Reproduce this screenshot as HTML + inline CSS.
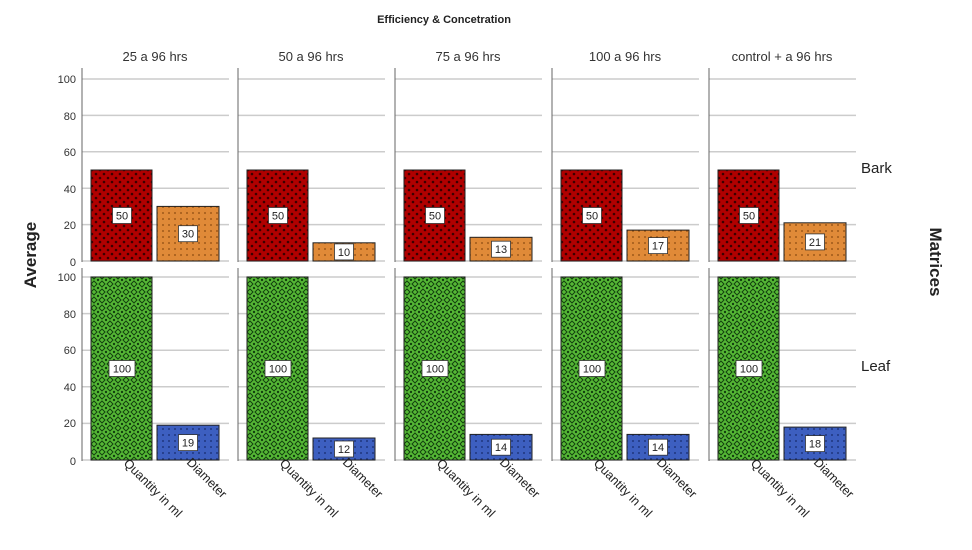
<!DOCTYPE html>
<html><head><meta charset="utf-8"><style>body{margin:0;background:#fff}svg{display:block}</style></head><body>
<svg width="972" height="550" xmlns="http://www.w3.org/2000/svg" font-family="Liberation Sans, sans-serif">
<defs>
<pattern id="pr" width="8" height="8" patternUnits="userSpaceOnUse"><rect width="8" height="8" fill="#b00000"/><circle cx="2" cy="2" r="1.3" fill="#3a0000"/><circle cx="6" cy="6" r="1.3" fill="#3a0000"/></pattern>
<pattern id="po" width="6" height="6" patternUnits="userSpaceOnUse"><rect width="6" height="6" fill="#e08a38"/><circle cx="3" cy="3" r="0.9" fill="#8a4a10"/></pattern>
<pattern id="pg" width="8" height="8" patternUnits="userSpaceOnUse"><rect width="8" height="8" fill="#55b835"/><path d="M4 1L7 4L4 7L1 4Z" fill="none" stroke="#123f0e" stroke-width="1"/><circle cx="0" cy="0" r="1.2" fill="#123f0e"/><circle cx="8" cy="0" r="1.2" fill="#123f0e"/><circle cx="0" cy="8" r="1.2" fill="#123f0e"/><circle cx="8" cy="8" r="1.2" fill="#123f0e"/></pattern>
<pattern id="pb" width="6" height="6" patternUnits="userSpaceOnUse"><rect width="6" height="6" fill="#3d5fc0"/><circle cx="3" cy="3" r="0.9" fill="#162a6a"/></pattern>
<g id="base">
<g stroke="#ccc" stroke-width="1.5">
<line x1="0" x2="147" y1="261" y2="261"/><line x1="0" x2="147" y1="224.6" y2="224.6"/><line x1="0" x2="147" y1="188.2" y2="188.2"/><line x1="0" x2="147" y1="151.8" y2="151.8"/><line x1="0" x2="147" y1="115.4" y2="115.4"/><line x1="0" x2="147" y1="79" y2="79"/>
<line x1="0" x2="147" y1="460" y2="460"/><line x1="0" x2="147" y1="423.4" y2="423.4"/><line x1="0" x2="147" y1="386.8" y2="386.8"/><line x1="0" x2="147" y1="350.2" y2="350.2"/><line x1="0" x2="147" y1="313.6" y2="313.6"/><line x1="0" x2="147" y1="277" y2="277"/>
</g>
<line x1="0" x2="0" y1="68" y2="262" stroke="#666"/>
<line x1="0" x2="0" y1="268" y2="461" stroke="#666"/>
<rect x="9" y="170" width="61" height="91" fill="url(#pr)" stroke="#222"/>
<rect x="9" y="277" width="61" height="183" fill="url(#pg)" stroke="#222"/>
<rect x="30.5" y="207.5" width="19" height="16" fill="#fff" stroke="#333" stroke-width="0.8"/>
<rect x="27" y="360.5" width="26" height="16" fill="#fff" stroke="#333" stroke-width="0.8"/>
</g>
</defs>
<text x="444" y="23" font-size="11" font-weight="bold" text-anchor="middle" fill="#222">Efficiency &amp; Concetration</text>
<text x="36" y="255" font-size="17" font-weight="bold" fill="#222" transform="rotate(-90 36 255)" text-anchor="middle">Average</text>
<text x="930" y="262" font-size="17" font-weight="bold" fill="#222" transform="rotate(90 930 262)" text-anchor="middle">Matrices</text>
<text x="861" y="173" font-size="15" fill="#222">Bark</text>
<text x="861" y="371" font-size="15" fill="#222">Leaf</text>
<g font-size="11" fill="#333" text-anchor="end">
<text x="76" y="83">100</text><text x="76" y="120">80</text><text x="76" y="156">60</text><text x="76" y="193">40</text><text x="76" y="229">20</text><text x="76" y="266">0</text>
<text x="76" y="281">100</text><text x="76" y="318">80</text><text x="76" y="354">60</text><text x="76" y="391">40</text><text x="76" y="427">20</text><text x="76" y="465">0</text>
</g>

<g transform="translate(82,0)">
<use href="#base"/>
<rect x="75" y="206.4" width="62" height="54.6" fill="url(#po)" stroke="#222"/>
<rect x="75" y="425.2" width="62" height="34.8" fill="url(#pb)" stroke="#222"/>
<rect x="96.5" y="225.7" width="19" height="16" fill="#fff" stroke="#333" stroke-width="0.8"/>
<rect x="96.5" y="434.6" width="19" height="16" fill="#fff" stroke="#333" stroke-width="0.8"/>
<g font-size="11" text-anchor="middle" fill="#222"><text x="40" y="219.5">50</text><text x="40" y="372.5">100</text><text x="106" y="237.7">30</text><text x="106" y="446.6">19</text></g>
<text x="73" y="61" font-size="13" text-anchor="middle" fill="#333">25 a 96 hrs</text>
</g>
<g transform="translate(238,0)">
<use href="#base"/>
<rect x="75" y="242.8" width="62" height="18.2" fill="url(#po)" stroke="#222"/>
<rect x="75" y="438" width="62" height="22" fill="url(#pb)" stroke="#222"/>
<rect x="96.5" y="243.9" width="19" height="16" fill="#fff" stroke="#333" stroke-width="0.8"/>
<rect x="96.5" y="441" width="19" height="16" fill="#fff" stroke="#333" stroke-width="0.8"/>
<g font-size="11" text-anchor="middle" fill="#222"><text x="40" y="219.5">50</text><text x="40" y="372.5">100</text><text x="106" y="255.9">10</text><text x="106" y="453">12</text></g>
<text x="73" y="61" font-size="13" text-anchor="middle" fill="#333">50 a 96 hrs</text>
</g>
<g transform="translate(395,0)">
<use href="#base"/>
<rect x="75" y="237.3" width="62" height="23.7" fill="url(#po)" stroke="#222"/>
<rect x="75" y="434.4" width="62" height="25.6" fill="url(#pb)" stroke="#222"/>
<rect x="96.5" y="241.2" width="19" height="16" fill="#fff" stroke="#333" stroke-width="0.8"/>
<rect x="96.5" y="439.2" width="19" height="16" fill="#fff" stroke="#333" stroke-width="0.8"/>
<g font-size="11" text-anchor="middle" fill="#222"><text x="40" y="219.5">50</text><text x="40" y="372.5">100</text><text x="106" y="253.2">13</text><text x="106" y="451.2">14</text></g>
<text x="73" y="61" font-size="13" text-anchor="middle" fill="#333">75 a 96 hrs</text>
</g>
<g transform="translate(552,0)">
<use href="#base"/>
<rect x="75" y="230.1" width="62" height="30.9" fill="url(#po)" stroke="#222"/>
<rect x="75" y="434.4" width="62" height="25.6" fill="url(#pb)" stroke="#222"/>
<rect x="96.5" y="237.6" width="19" height="16" fill="#fff" stroke="#333" stroke-width="0.8"/>
<rect x="96.5" y="439.2" width="19" height="16" fill="#fff" stroke="#333" stroke-width="0.8"/>
<g font-size="11" text-anchor="middle" fill="#222"><text x="40" y="219.5">50</text><text x="40" y="372.5">100</text><text x="106" y="249.6">17</text><text x="106" y="451.2">14</text></g>
<text x="73" y="61" font-size="13" text-anchor="middle" fill="#333">100 a 96 hrs</text>
</g>
<g transform="translate(709,0)">
<use href="#base"/>
<rect x="75" y="222.8" width="62" height="38.2" fill="url(#po)" stroke="#222"/>
<rect x="75" y="427.1" width="62" height="32.9" fill="url(#pb)" stroke="#222"/>
<rect x="96.5" y="233.9" width="19" height="16" fill="#fff" stroke="#333" stroke-width="0.8"/>
<rect x="96.5" y="435.6" width="19" height="16" fill="#fff" stroke="#333" stroke-width="0.8"/>
<g font-size="11" text-anchor="middle" fill="#222"><text x="40" y="219.5">50</text><text x="40" y="372.5">100</text><text x="106" y="245.9">21</text><text x="106" y="447.6">18</text></g>
<text x="73" y="61" font-size="13" text-anchor="middle" fill="#333">control + a 96 hrs</text>
</g>

<g font-size="12.5" fill="#222">
<text transform="translate(123,464) rotate(45)">Quantity in ml</text><text transform="translate(186,463) rotate(45)">Diameter</text>
<text transform="translate(279,464) rotate(45)">Quantity in ml</text><text transform="translate(342,463) rotate(45)">Diameter</text>
<text transform="translate(436,464) rotate(45)">Quantity in ml</text><text transform="translate(499,463) rotate(45)">Diameter</text>
<text transform="translate(593,464) rotate(45)">Quantity in ml</text><text transform="translate(656,463) rotate(45)">Diameter</text>
<text transform="translate(750,464) rotate(45)">Quantity in ml</text><text transform="translate(813,463) rotate(45)">Diameter</text>
</g>
</svg>
</body></html>
